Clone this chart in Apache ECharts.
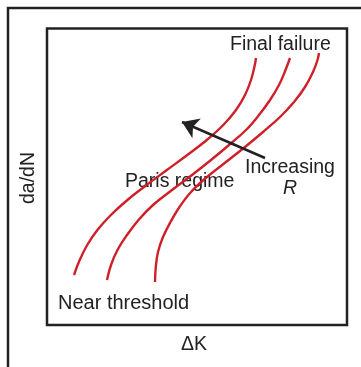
<!DOCTYPE html>
<html>
<head>
<meta charset="utf-8">
<script src="https://cdn.jsdelivr.net/npm/echarts@6/dist/echarts.min.js"></script>
<style>
  html, body { margin: 0; padding: 0; background: #fff; }
  #chart { width: 361px; height: 367px; }
</style>
</head>
<body>
<div id="chart"></div>
<script>
// Schematic fatigue crack growth curves: da/dN against ΔK for three stress ratios.
// Values are in arbitrary axis units (ΔK: 0–300, da/dN: 0–296.5).
const curveLowR = [[27, 50], [32.7, 65], [40.2, 80], [50.4, 95], [63.9, 110], [80.4, 125],
  [99.6, 140], [119.9, 155], [140.3, 170], [159.8, 185], [176.3, 200], [189, 215],
  [198, 230], [204, 245], [207.8, 260], [209, 267]];
const curveMidR = [[60, 45], [64, 60], [70.5, 75], [80, 90], [91.5, 105], [106, 120],
  [125, 135], [145, 150], [164, 165], [182, 180], [199, 195], [212, 210],
  [223, 225], [232, 240], [238.5, 255], [243, 267]];
const curveHighR = [[108, 43], [108.8, 58], [111, 73], [116, 88], [123.5, 103], [132.5, 118],
  [144, 133], [160, 148], [179, 163], [198, 178], [216, 193], [233, 208],
  [247, 223], [258, 238], [266, 253], [270.5, 265], [272, 272]];
const curves = [curveLowR, curveMidR, curveHighR];

// Arrow pointing toward increasing R (tail, head)
const arrowTail = [218, 167];
const arrowHead = [135, 203];

const axisNames = { x: 'ΔK', y: 'da/dN' };
const regionLabels = { top: 'Final failure', middle: 'Paris regime', bottom: 'Near threshold' };
const arrowLabel = ['Increasing', 'R'];

const INK = '#222222';
const RED = '#cf1f29';
const FONT = '"Liberation Sans", Arial, Helvetica, sans-serif';
const FS = 19.5;

const chart = echarts.init(document.getElementById('chart'), null, { renderer: 'canvas' });

const series = curves.map((pts, i) => ({
  type: 'line',
  data: pts,
  smooth: 0.4,
  symbol: 'none',
  silent: true,
  lineStyle: { color: RED, width: 2.4 },
  markLine: i === 0 ? {
    silent: true,
    animation: false,
    symbol: ['none', 'arrow'],
    symbolSize: 16,
    label: { show: false },
    lineStyle: { color: INK, width: 2.5, type: 'solid' },
    data: [[{ coord: arrowTail }, { coord: arrowHead }]]
  } : undefined
}));

function txt(text, x, y, extra) {
  return {
    type: 'text', x: x, y: y, silent: true,
    style: Object.assign({
      text: text, fill: INK, fontSize: FS, fontFamily: FONT,
      textAlign: 'left', textVerticalAlign: 'middle'
    }, extra || {})
  };
}

const yLabel = txt(axisNames.y, 29, 178, { textAlign: 'center' });
yLabel.rotation = Math.PI / 2;

chart.setOption({
  animation: false,
  backgroundColor: '#fff',
  grid: {
    left: 47, top: 28.5, width: 300, height: 296.5,
    show: true, borderColor: INK, borderWidth: 2.5, backgroundColor: 'transparent'
  },
  xAxis: { type: 'value', min: 0, max: 300, show: false },
  yAxis: { type: 'value', min: 0, max: 296.5, show: false },
  series: series,
  graphic: [
    {
      type: 'polyline', silent: true,
      shape: { points: [[8, 380], [8, 8], [380, 8]] },
      style: { stroke: INK, lineWidth: 2.5, fill: null }
    },
    txt(regionLabels.top, 230, 45),
    txt(regionLabels.middle, 125, 182),
    txt(regionLabels.bottom, 58, 303, { fontSize: 20 }),
    txt(arrowLabel[0], 245, 167.5),
    txt(arrowLabel[1], 290, 189, { textAlign: 'center', fontStyle: 'italic' }),
    txt(axisNames.x, 194, 345, { textAlign: 'center' }),
    yLabel
  ]
});
</script>
</body>
</html>
